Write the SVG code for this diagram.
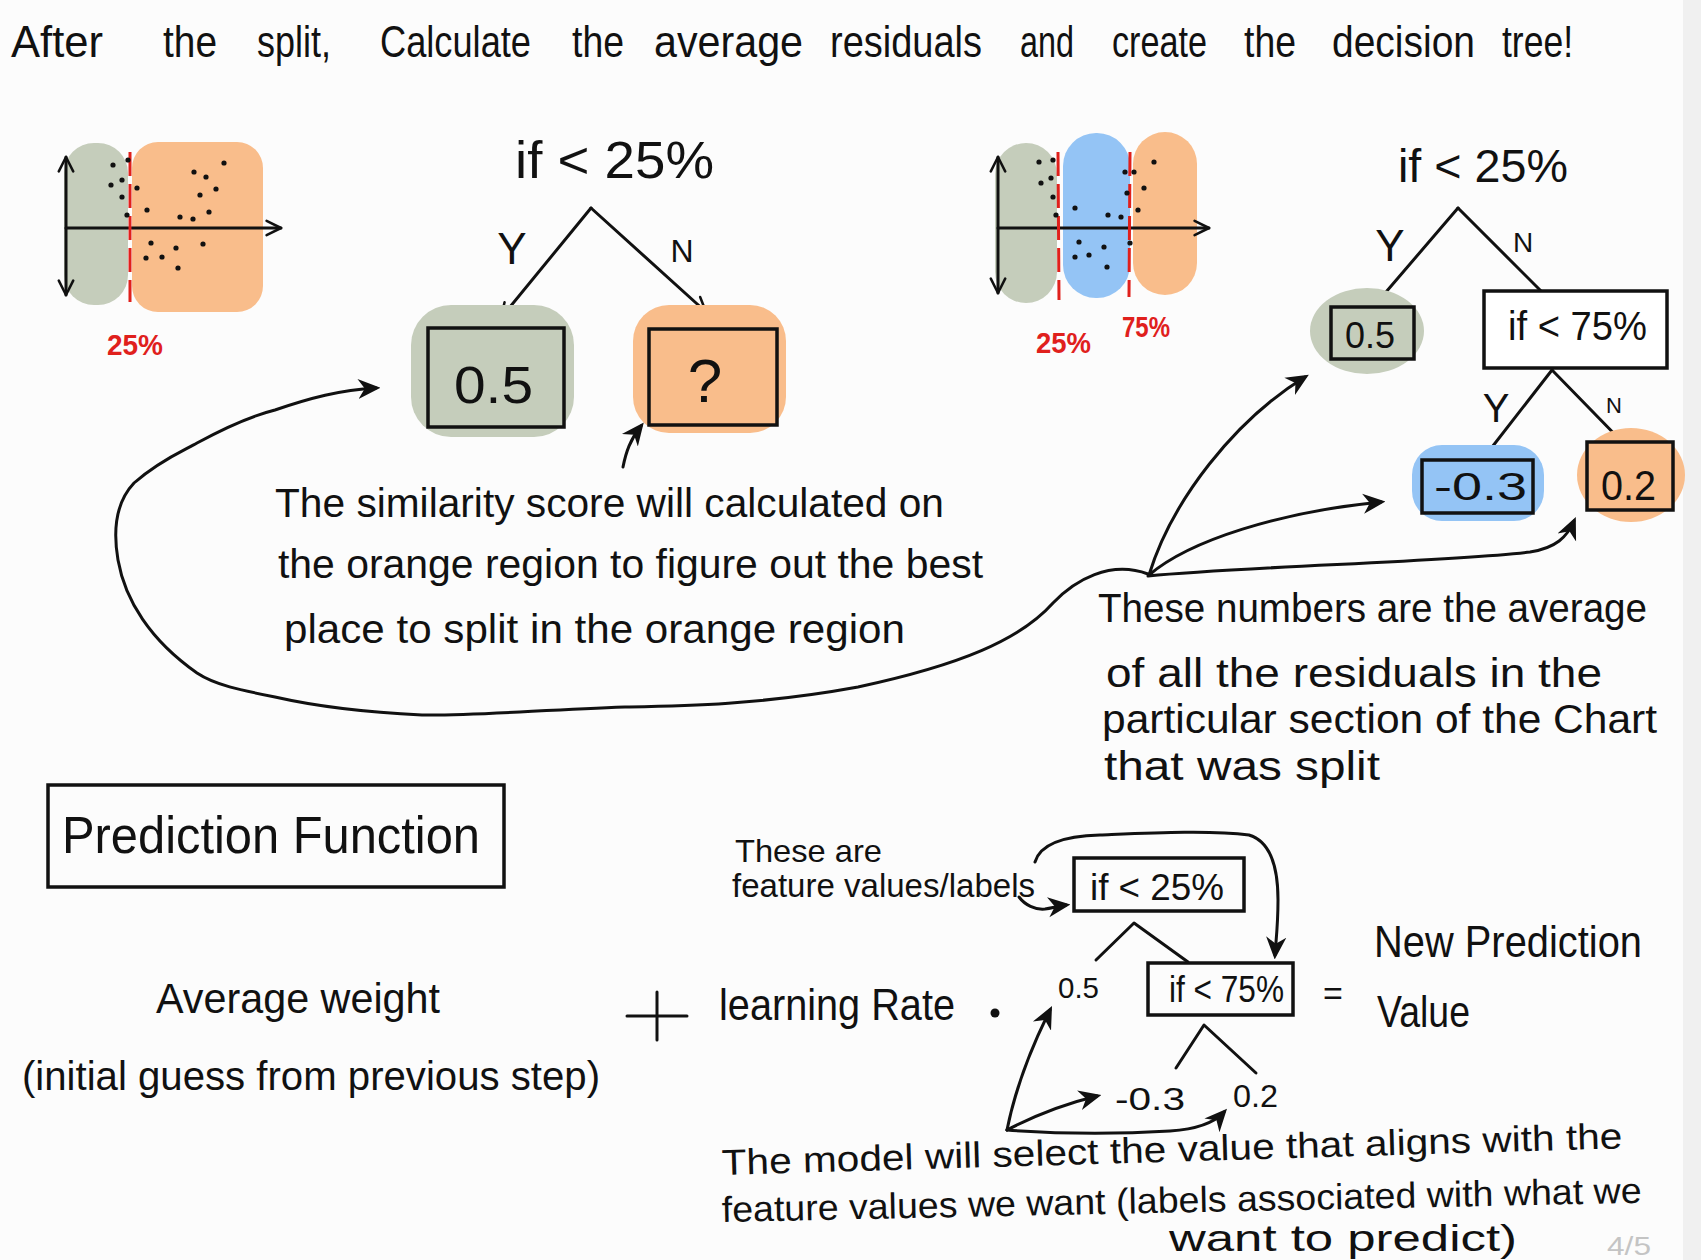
<svg xmlns="http://www.w3.org/2000/svg" width="1701" height="1260" viewBox="0 0 1701 1260">
<defs>
<style>
.t{font-family:"Liberation Sans",Arial,sans-serif;fill:#111}
.ln{stroke:#111;stroke-width:3;fill:none;stroke-linecap:round;stroke-linejoin:round}
.box{stroke:#111;stroke-width:3.5}
.red{font-family:"Liberation Sans",Arial,sans-serif;fill:#e0201c;font-weight:bold}
.dash{stroke:#e0201c;stroke-width:3;stroke-dasharray:24 8;fill:none}
.g{fill:#c5cdbb}
.o{fill:#f9bd8b}
.b{fill:#94c4f5}
.dot{fill:#111}
</style>
<marker id="ah" viewBox="0 0 10 10" refX="8" refY="5" markerWidth="7.5" markerHeight="7.5" orient="auto-start-reverse"><path d="M0,0.5 L10,5 L0,9.5 L3,5 z" fill="#111"/></marker>
<marker id="av" viewBox="0 0 10 10" refX="9" refY="5" markerWidth="6" markerHeight="6" orient="auto-start-reverse"><path d="M1,1 L9,5 L1,9" fill="none" stroke="#111" stroke-width="1.4" stroke-linecap="round" stroke-linejoin="round"/></marker>
</defs>
<rect width="1701" height="1260" fill="#fcfcfc"/>
<rect x="1683" y="0" width="18" height="1260" fill="#f0f0f0"/>

<g id="title" class="t" font-size="44">
<text x="11" y="57" textLength="92" lengthAdjust="spacingAndGlyphs">After</text>
<text x="163" y="57" textLength="54" lengthAdjust="spacingAndGlyphs">the</text>
<text x="257" y="57" textLength="74" lengthAdjust="spacingAndGlyphs">split,</text>
<text x="380" y="57" textLength="151" lengthAdjust="spacingAndGlyphs">Calculate</text>
<text x="572" y="57" textLength="52" lengthAdjust="spacingAndGlyphs">the</text>
<text x="654" y="57" textLength="149" lengthAdjust="spacingAndGlyphs">average</text>
<text x="830" y="57" textLength="152" lengthAdjust="spacingAndGlyphs">residuals</text>
<text x="1020" y="57" textLength="54" lengthAdjust="spacingAndGlyphs">and</text>
<text x="1112" y="57" textLength="95" lengthAdjust="spacingAndGlyphs">create</text>
<text x="1244" y="57" textLength="52" lengthAdjust="spacingAndGlyphs">the</text>
<text x="1332" y="57" textLength="143" lengthAdjust="spacingAndGlyphs">decision</text>
<text x="1502" y="57" textLength="71" lengthAdjust="spacingAndGlyphs">tree!</text>
</g>

<!-- left chart -->
<g id="chart-left">
<rect class="g" x="64" y="143" width="64" height="162" rx="30"/>
<rect class="o" x="132" y="142" width="131" height="170" rx="26"/>
<line class="ln" x1="66" y1="157" x2="66" y2="295" marker-start="url(#av)" marker-end="url(#av)"/>
<line class="ln" x1="66" y1="228" x2="281" y2="228" marker-end="url(#av)"/>
<line class="dash" x1="130" y1="152" x2="130" y2="302"/>
<g class="dot">
<circle cx="113" cy="165" r="2.6"/><circle cx="128" cy="160" r="2.6"/><circle cx="122" cy="180" r="2.6"/><circle cx="111" cy="185" r="2.6"/><circle cx="122" cy="197" r="2.6"/><circle cx="127" cy="215" r="2.6"/><circle cx="137" cy="188" r="2.6"/><circle cx="147" cy="210" r="2.6"/><circle cx="180" cy="217" r="2.6"/><circle cx="193" cy="219" r="2.6"/><circle cx="209" cy="212" r="2.6"/><circle cx="200" cy="195" r="2.6"/><circle cx="216" cy="189" r="2.6"/><circle cx="194" cy="172" r="2.6"/><circle cx="206" cy="177" r="2.6"/><circle cx="224" cy="163" r="2.6"/><circle cx="151" cy="243" r="2.6"/><circle cx="146" cy="258" r="2.6"/><circle cx="162" cy="257" r="2.6"/><circle cx="176" cy="248" r="2.6"/><circle cx="178" cy="268" r="2.6"/><circle cx="203" cy="244" r="2.6"/>
</g>
<text class="red" x="107" y="355" font-size="30" textLength="56" lengthAdjust="spacingAndGlyphs">25%</text>
</g>

<!-- right chart -->
<g id="chart-right">
<rect class="g" x="995" y="143" width="62" height="160" rx="31"/>
<rect class="b" x="1063" y="133" width="67" height="165" rx="33"/>
<rect class="o" x="1133" y="132" width="64" height="163" rx="32"/>
<line class="ln" x1="998" y1="157" x2="998" y2="293" marker-start="url(#av)" marker-end="url(#av)"/>
<line class="ln" x1="998" y1="228" x2="1209" y2="228" marker-end="url(#av)"/>
<line class="dash" x1="1058" y1="152" x2="1059" y2="300"/>
<line class="dash" x1="1130" y1="152" x2="1129" y2="297"/>
<g class="dot">
<circle cx="1039" cy="162" r="2.6"/><circle cx="1053" cy="160" r="2.6"/><circle cx="1041" cy="183" r="2.6"/><circle cx="1051" cy="178" r="2.6"/><circle cx="1053" cy="197" r="2.6"/><circle cx="1056" cy="215" r="2.6"/><circle cx="1075" cy="208" r="2.6"/><circle cx="1108" cy="215" r="2.6"/><circle cx="1121" cy="217" r="2.6"/><circle cx="1125" cy="172" r="2.6"/><circle cx="1134" cy="172" r="2.6"/><circle cx="1127" cy="193" r="2.6"/><circle cx="1144" cy="188" r="2.6"/><circle cx="1138" cy="210" r="2.6"/><circle cx="1154" cy="162" r="2.6"/><circle cx="1130" cy="243" r="2.6"/><circle cx="1079" cy="242" r="2.6"/><circle cx="1075" cy="257" r="2.6"/><circle cx="1089" cy="255" r="2.6"/><circle cx="1104" cy="247" r="2.6"/><circle cx="1107" cy="267" r="2.6"/>
</g>
<text class="red" x="1036" y="353" font-size="30" textLength="55" lengthAdjust="spacingAndGlyphs">25%</text>
<text class="red" x="1122" y="337" font-size="30" textLength="48" lengthAdjust="spacingAndGlyphs">75%</text>
</g>

<!-- connectors -->
<g id="connectors">
<path class="ln" d="M591 208 L501 318" marker-end="url(#av)"/>
<path class="ln" d="M591 208 L706 312" marker-end="url(#av)"/>
<path class="ln" d="M1458 208 L1374 306"/>
<path class="ln" d="M1458 208 L1541 291"/>
<path class="ln" d="M1552 370 L1482 460"/>
<path class="ln" d="M1552 370 L1632 452"/>
<path class="ln" d="M1148 574 C 1110 560, 1075 580, 1053 603 C 1020 640, 960 665, 858 687 C 760 705, 680 706, 625 707 C 540 710, 470 716, 422 715 C 360 712, 310 705, 275 697 C 240 690, 215 685, 197 673 C 150 640, 125 600, 118 560 C 112 525, 118 500, 134 483 C 160 460, 185 450, 197 443 C 230 425, 255 415, 275 410 C 310 398, 340 390, 376 388" marker-end="url(#ah)"/>
<path class="ln" d="M1149 575 C 1172 500, 1235 420, 1305 377" marker-end="url(#ah)"/>
<path class="ln" d="M1149 575 C 1190 540, 1280 512, 1381 502" marker-end="url(#ah)"/>
<path class="ln" d="M1148 576 C 1250 566, 1450 562, 1530 552 C 1556 548, 1567 537, 1574 521" marker-end="url(#ah)"/>
<path class="ln" d="M623 467 C 626 452, 630 440, 641 426" marker-end="url(#ah)"/>
<path class="ln" d="M1096 960 L1134 923 L1188 962"/>
<path class="ln" d="M1176 1068 L1204 1025 L1256 1073"/>
<path class="ln" d="M1035 862 C 1040 845, 1060 836, 1100 835 C 1150 833, 1210 830, 1249 835 C 1272 842, 1278 870, 1278 900 C 1278 925, 1276 940, 1275 955" marker-end="url(#ah)"/>
<path class="ln" d="M1019 897 C 1025 905, 1035 910, 1045 909 C 1052 908, 1058 906, 1066 905" marker-end="url(#ah)"/>
<path class="ln" d="M1007 1130 C 1015 1090, 1030 1050, 1050 1010" marker-end="url(#ah)"/>
<path class="ln" d="M1007 1130 C 1030 1118, 1060 1105, 1097 1096" marker-end="url(#ah)"/>
<path class="ln" d="M1007 1130 C 1060 1134, 1120 1134, 1170 1131 C 1200 1129, 1215 1122, 1224 1112" marker-end="url(#ah)"/>
<path class="ln" d="M627 1016 L687 1016 M657 992 L657 1040"/>
</g>

<g id="node-root-left">
<text class="t" x="515" y="178" font-size="52" textLength="199" lengthAdjust="spacingAndGlyphs">if &lt; 25%</text>
<text class="t" x="512" y="264" font-size="44" text-anchor="middle">Y</text>
<text class="t" x="682" y="262" font-size="32" text-anchor="middle">N</text>
</g>
<g id="node-left-05">
<rect class="g" x="411" y="305" width="163" height="132" rx="40"/>
<rect class="g box" x="428" y="328" width="136" height="99"/>
<text class="t" x="454" y="403" font-size="52" textLength="79" lengthAdjust="spacingAndGlyphs">0.5</text>
</g>
<g id="node-left-q">
<rect class="o" x="633" y="305" width="153" height="128" rx="36"/>
<rect class="o box" x="649" y="329" width="128" height="96"/>
<text class="t" x="705" y="402" font-size="62" text-anchor="middle">?</text>
</g>

<g id="node-root-right">
<text class="t" x="1398" y="182" font-size="46" textLength="170" lengthAdjust="spacingAndGlyphs">if &lt; 25%</text>
<text class="t" x="1390" y="261" font-size="44" text-anchor="middle">Y</text>
<text class="t" x="1523" y="252" font-size="28" text-anchor="middle">N</text>
</g>
<g id="node-right-05">
<ellipse class="g" cx="1367" cy="331" rx="57" ry="43"/>
<rect class="g box" x="1331" y="307" width="83" height="52"/>
<text class="t" x="1345" y="348" font-size="36" textLength="50" lengthAdjust="spacingAndGlyphs">0.5</text>
</g>
<g id="node-right-75">
<rect class="box" fill="#fff" x="1484" y="291" width="183" height="77"/>
<text class="t" x="1508" y="340" font-size="40" textLength="139" lengthAdjust="spacingAndGlyphs">if &lt; 75%</text>
<text class="t" x="1496" y="422" font-size="40" text-anchor="middle">Y</text>
<text class="t" x="1614" y="413" font-size="22" text-anchor="middle">N</text>
</g>
<g id="node-right-m03">
<rect class="b" x="1412" y="445" width="132" height="76" rx="30"/>
<rect class="b box" x="1422" y="460" width="111" height="53"/>
<text class="t" x="1434" y="500" font-size="38" textLength="93" lengthAdjust="spacingAndGlyphs">-0.3</text>
</g>
<g id="node-right-02">
<ellipse class="o" cx="1631" cy="475" rx="54" ry="47"/>
<rect class="o box" x="1587" y="442" width="86" height="68"/>
<text class="t" x="1601" y="500" font-size="42" textLength="55" lengthAdjust="spacingAndGlyphs">0.2</text>
</g>

<g id="note-similarity" class="t" font-size="40">
<text x="275" y="517" textLength="669" lengthAdjust="spacingAndGlyphs">The similarity score will calculated on</text>
<text x="278" y="578" textLength="705" lengthAdjust="spacingAndGlyphs">the orange region to figure out the best</text>
<text x="284" y="643" textLength="621" lengthAdjust="spacingAndGlyphs">place to split in the orange region</text>
</g>
<g id="note-numbers" class="t" font-size="40">
<text x="1098" y="622" textLength="549" lengthAdjust="spacingAndGlyphs">These numbers are the average</text>
<text x="1106" y="687" textLength="496" lengthAdjust="spacingAndGlyphs">of all the residuals in the</text>
<text x="1102" y="733" textLength="555" lengthAdjust="spacingAndGlyphs">particular section of the Chart</text>
<text x="1104" y="780" textLength="276" lengthAdjust="spacingAndGlyphs">that was split</text>
</g>

<g id="node-pred-func">
<rect class="box" fill="none" x="48" y="785" width="456" height="102"/>
<text class="t" x="62" y="853" font-size="52" textLength="418" lengthAdjust="spacingAndGlyphs">Prediction Function</text>
</g>
<g id="node-avg-weight" class="t">
<text x="156" y="1013" font-size="42" textLength="284" lengthAdjust="spacingAndGlyphs">Average weight</text>
<text x="22" y="1090" font-size="40" textLength="578" lengthAdjust="spacingAndGlyphs">(initial guess from previous step)</text>
</g>
<g id="node-lr" class="t">
<text x="719" y="1020" font-size="44" textLength="236" lengthAdjust="spacingAndGlyphs">learning Rate</text>
<circle cx="995" cy="1013" r="4.5" fill="#111"/>
</g>
<g id="note-feature" class="t">
<text x="735" y="862" font-size="32" textLength="147" lengthAdjust="spacingAndGlyphs">These are</text>
<text x="732" y="897" font-size="34" textLength="303" lengthAdjust="spacingAndGlyphs">feature values/labels</text>
</g>
<g id="node-small-25">
<rect class="box" fill="none" x="1074" y="858" width="170" height="53"/>
<text class="t" x="1090" y="900" font-size="36" textLength="134" lengthAdjust="spacingAndGlyphs">if &lt; 25%</text>
</g>
<g id="node-small-75">
<rect class="box" fill="none" x="1148" y="963" width="145" height="52"/>
<text class="t" x="1169" y="1002" font-size="36" textLength="115" lengthAdjust="spacingAndGlyphs">if &lt; 75%</text>
</g>
<g id="node-small-05"><text class="t" x="1058" y="998" font-size="30" textLength="41" lengthAdjust="spacingAndGlyphs">0.5</text></g>
<g id="node-small-m03"><text class="t" x="1115" y="1110" font-size="32" textLength="70" lengthAdjust="spacingAndGlyphs">-0.3</text></g>
<g id="node-small-02"><text class="t" x="1233" y="1107" font-size="32" textLength="45" lengthAdjust="spacingAndGlyphs">0.2</text></g>
<g id="node-eq"><text class="t" x="1333" y="1005" font-size="34" text-anchor="middle">=</text></g>
<g id="node-new-pred" class="t" font-size="44">
<text x="1374" y="957" textLength="268" lengthAdjust="spacingAndGlyphs">New Prediction</text>
<text x="1377" y="1027" textLength="93" lengthAdjust="spacingAndGlyphs">Value</text>
</g>
<g id="note-model" class="t" font-size="36">
<text x="722" y="1175" textLength="901" lengthAdjust="spacingAndGlyphs" transform="rotate(-1.7 722 1175)">The model will select the value that aligns with the</text>
<text x="722" y="1222" textLength="920" lengthAdjust="spacingAndGlyphs" transform="rotate(-1.2 722 1222)">feature values we want (labels associated with what we</text>
<text x="1169" y="1251" textLength="348" lengthAdjust="spacingAndGlyphs">want to predict)</text>
</g>
<text x="1607" y="1255" font-family="Liberation Sans, Arial, sans-serif" font-size="26" fill="#c4c4c4" textLength="44" lengthAdjust="spacingAndGlyphs">4/5</text>
</svg>
